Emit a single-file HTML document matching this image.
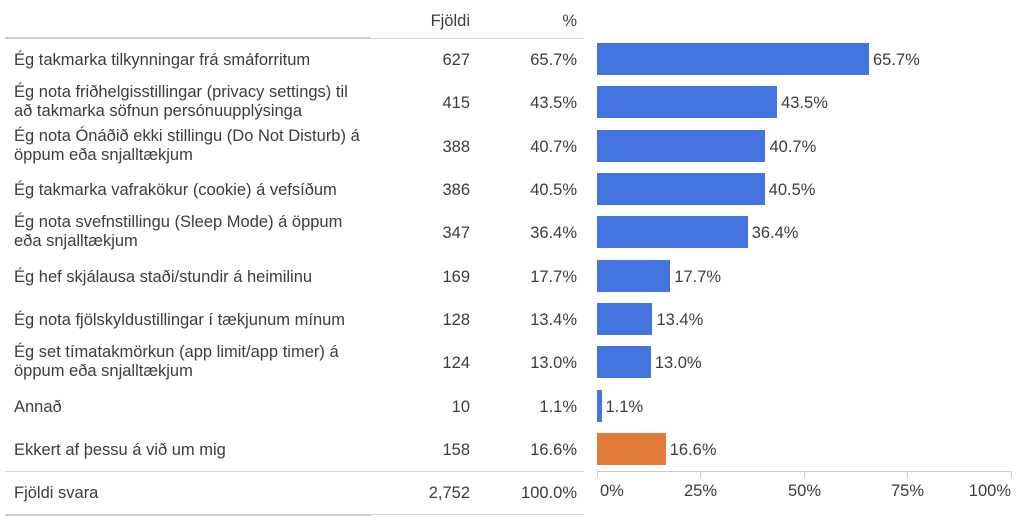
<!DOCTYPE html>
<html><head><meta charset="utf-8"><style>
body{margin:0;width:1024px;height:521px;background:#fff;font-family:"Liberation Sans",Arial,sans-serif;color:#3c3c3c;position:relative;overflow:hidden}
.t{position:absolute;font-size:16.5px;line-height:19px;white-space:nowrap}
.r{text-align:right}
.bar{position:absolute;height:32px;background:#4374e0}
.line{position:absolute;height:1px;background:#d9d9d9}
.thick{position:absolute;height:2px;background:#cccccc}
.tick{position:absolute;width:1px;height:7px;background:#ccc;top:471px}
</style></head><body>
<div class="t r" style="left:400px;top:12px;width:70px">Fjöldi</div>
<div class="t r" style="left:500px;top:12px;width:77px">%</div>
<div class="line" style="left:5px;top:38px;width:579px"></div>
<div class="thick" style="left:5px;top:37px;width:366px"></div>

<div id="rows"></div>

<div class="line" style="left:5px;top:471px;width:579px"></div>
<div class="t" style="left:14px;top:484px">Fjöldi svara</div>
<div class="t r" style="left:400px;top:484px;width:70px">2,752</div>
<div class="t r" style="left:500px;top:484px;width:77px">100.0%</div>
<div class="line" style="left:5px;top:514px;width:579px"></div>
<div class="thick" style="left:5px;top:514px;width:366px"></div>

<div class="line" style="left:597px;top:471px;width:415px;background:#ccc"></div>
<div class="tick" style="left:597px"></div><div class="tick" style="left:700px"></div><div class="tick" style="left:804px"></div><div class="tick" style="left:907px"></div><div class="tick" style="left:1011px"></div>
<div class="t" style="left:600px;top:482px">0%</div>
<div class="t" style="left:684px;top:482px">25%</div>
<div class="t" style="left:788px;top:482px">50%</div>
<div class="t" style="left:891px;top:482px">75%</div>
<div class="t r" style="left:950px;top:482px;width:61px">100%</div>
<script>
var d=[["Ég takmarka tilkynningar frá smáforritum",627,65.7],
["Ég nota friðhelgisstillingar (privacy settings) til<br>að takmarka söfnun persónuupplýsinga",415,43.5],
["Ég nota Ónáðið ekki stillingu (Do Not Disturb) á<br>öppum eða snjalltækjum",388,40.7],
["Ég takmarka vafrakökur (cookie) á vefsíðum",386,40.5],
["Ég nota svefnstillingu (Sleep Mode) á öppum<br>eða snjalltækjum",347,36.4],
["Ég hef skjálausa staði/stundir á heimilinu",169,17.7],
["Ég nota fjölskyldustillingar í tækjunum mínum",128,13.4],
["Ég set tímatakmörkun (app limit/app timer) á<br>öppum eða snjalltækjum",124,13.0],
["Annað",10,1.1],
["Ekkert af þessu á við um mig",158,16.6]];
var h="";
d.forEach(function(r,i){var c=59+i*43.35;var two=r[0].indexOf("<br>")>0;
h+='<div class="t" style="left:14px;top:'+(c-(two?19:8))+'px">'+r[0]+'</div>';
h+='<div class="t r" style="left:400px;top:'+(c-8)+'px;width:70px">'+r[1]+'</div>';
h+='<div class="t r" style="left:500px;top:'+(c-8)+'px;width:77px">'+r[2].toFixed(1)+'%</div>';
var w=r[2]*4.14;
h+='<div class="bar" style="left:597px;top:'+(c-16)+'px;width:'+w+'px;'+(i==9?'background:#e07b39':'')+'"></div>';
h+='<div class="t" style="left:'+(601+w)+'px;top:'+(c-8)+'px">'+r[2].toFixed(1)+'%</div>';});
document.getElementById("rows").innerHTML=h;
</script>
</body></html>
